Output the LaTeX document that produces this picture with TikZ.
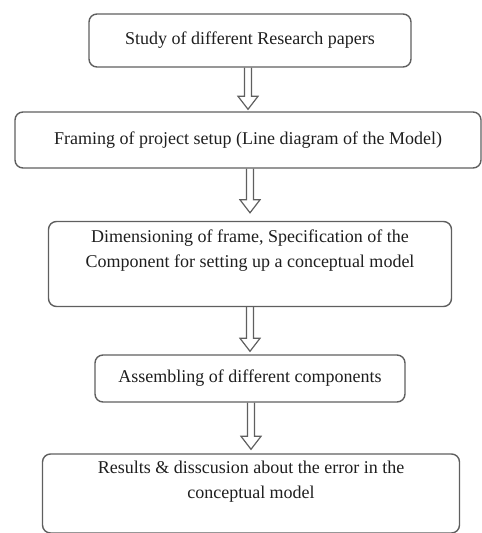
\documentclass[tikz,border=0pt]{standalone}
\usepackage{fontspec}
\setmainfont{Liberation Serif}
\usepackage{tikz}
\usetikzlibrary{calc, positioning}
\definecolor{boxline}{RGB}{95, 95, 95}
\definecolor{boxtext}{RGB}{30, 30, 30}

% hollow down arrow from one box to the next
\newcommand{\hollowarrow}[3]{%
  \draw[arrowline] ($(#1.south -| #2.north)+(-3.5,0)$) -- ($(#2.north)+(-3.5,-#3-13)$)
    -- ($(#2.north)+(-10,-#3-13)$) -- ($(#2.north)+(0,-#3)$)
    -- ($(#2.north)+(10,-#3-13)$) -- ($(#2.north)+(3.5,-#3-13)$)
    -- ($(#1.south -| #2.north)+(3.5,0)$);}

\begin{document}
\begin{tikzpicture}[x=0.5pt, y=-0.5pt, font=\fontsize{9}{12.5}\selectfont,
  stepbox/.style={draw=boxline, line width=0.7pt, rounded corners=4pt,
    text=boxtext, align=center, inner sep=0pt},
  arrowline/.style={draw=boxline, line width=0.6pt, line join=miter}]
  \useasboundingbox (0,0) rectangle (481,533);
  % Flow of the work
  \node[stepbox, minimum width=161pt, minimum height=26.5pt] (study) at (250, 40.5)
    {Study of different Research papers};
  \node[stepbox, minimum width=233pt, minimum height=28pt] (framing) at (248, 140)
    {Framing of project setup (Line diagram of the Model)};
  \node[stepbox, minimum width=201.5pt, minimum height=42.5pt] (dims) at (250, 264)
    {Dimensioning of frame, Specification of the\\Component for setting up a conceptual model\\[3pt]};
  \node[stepbox, minimum width=155pt, minimum height=23.5pt] (assembly) at (250, 378.5)
    {Assembling of different components};
  \node[stepbox, minimum width=208.5pt, minimum height=39.5pt] (results) at (251, 493.5)
    {Results \& disscusion about the error in the\\conceptual model\\[1pt]};

  \hollowarrow{study}{framing}{2}
  \hollowarrow{framing}{dims}{8}
  \hollowarrow{dims}{assembly}{3}
  \hollowarrow{assembly}{results}{4}
\end{tikzpicture}
\end{document}
